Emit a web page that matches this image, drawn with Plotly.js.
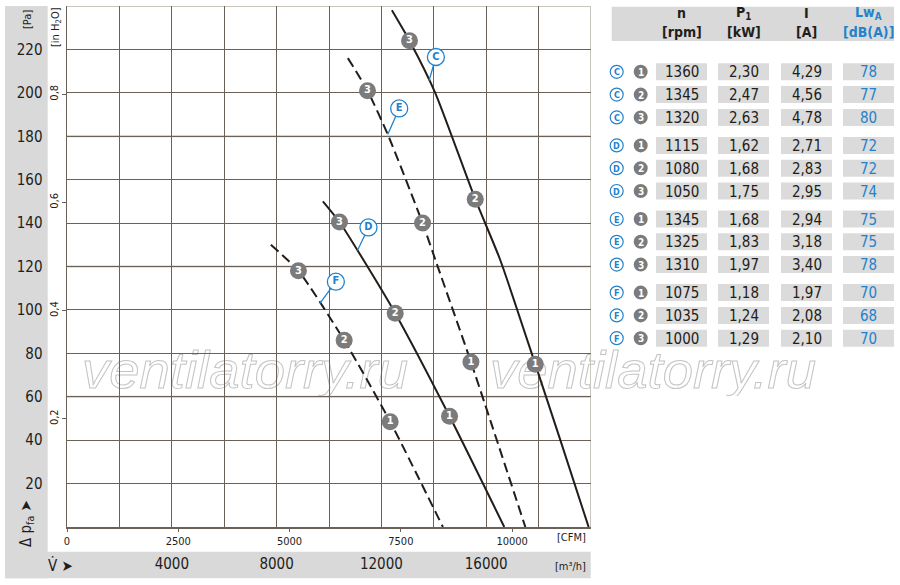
<!DOCTYPE html>
<html>
<head>
<meta charset="utf-8">
<script src="https://cdn.plot.ly/plotly-3.0.1.min.js"></script>
<style>
  html, body { margin: 0; padding: 0; background: #fff; }
  #chart { width: 900px; height: 585px; }
</style>
</head>
<body>
<div id="chart"></div>
<script>
// fan curves, air flow in m3/h and static pressure in Pa
const curveCFlow = [12400, 13073, 14054, 15582, 16536, 17873, 18830, 19909];
const curveCPa   = [238, 224, 200, 151, 123, 75, 40, 0];
const curveDFlow = [9766, 10400, 11316, 12527, 14601, 16690];
const curveDPa   = [150, 140.5, 123, 98.5, 51, 0];
const curveEFlow = [10720, 11470, 12272, 13571, 14120, 15418, 17494];
const curveEPa   = [216, 201, 180, 140, 121, 76, 0];
const curveFFlow = [7780, 8834, 10579, 12336, 14348];
const curveFPa   = [130, 118, 86, 48.5, 0];

// operating points 1, 2, 3 on each curve
const pointNames = ['1', '2', '3'];
const pointsCFlow = [17873, 15582, 13073], pointsCPa = [75, 151, 224];
const pointsDFlow = [14601, 12527, 10400], pointsDPa = [51, 98.5, 140.5];
const pointsEFlow = [15418, 13571, 11470], pointsEPa = [76, 140, 201];
const pointsFFlow = [12336, 10579, 8834],  pointsFPa = [48.5, 86, 118];

// curve callouts C, D, E, F (bubble centre and where the leader touches the curve)
const calloutNames  = ['C', 'D', 'E', 'F'];
const calloutFlow   = [14080, 11507, 12679, 10262];
const calloutPa     = [216.5, 138, 192.8, 113];
const calloutTouchPa = [205.7, 127.4, 180.8, 103];

// axes
const m3hTicks = [4000, 8000, 12000, 16000];
const cfmTicks = [0, 2500, 5000, 7500, 10000];
const paTicks = [20, 40, 60, 80, 100, 120, 140, 160, 180, 200, 220];
const inH2oTicks = [0.2, 0.4, 0.6, 0.8];
const lightGridPa = [60, 120, 180, 240];
const M3H_PER_CFM = 1.699011;
const PA_PER_INH2O = 249.0889;

// table
const tableCurve = ['C', 'C', 'C', 'D', 'D', 'D', 'E', 'E', 'E', 'F', 'F', 'F'];
const tablePoint = ['1', '2', '3', '1', '2', '3', '1', '2', '3', '1', '2', '3'];
const speedRpm  = [1360, 1345, 1320, 1115, 1080, 1050, 1345, 1325, 1310, 1075, 1035, 1000];
const powerKw   = [2.30, 2.47, 2.63, 1.62, 1.68, 1.75, 1.68, 1.83, 1.97, 1.18, 1.24, 1.29];
const currentA  = [4.29, 4.56, 4.78, 2.71, 2.83, 2.95, 2.94, 3.18, 3.40, 1.97, 2.08, 2.10];
const soundDbA  = [78, 77, 80, 72, 72, 74, 75, 75, 78, 70, 68, 70];

const NARROW = '"DejaVu Sans Condensed", "Liberation Sans Narrow", sans-serif';
const INK = '#221d19';
const GRID = '#6a6158';
const LIGHT = '#c9c5bf';
const BLUE = '#2382cc';
const DOT = '#7b7b7b';
const PANEL = '#d9d9d9';

// plot area in pixels, used for things outside the axes
const L = 67, R = 591, T = 6, B = 527;
const pX = v => (v - L) / (R - L);
const pY = v => (B - v) / (B - T);

function xAtPa(xs, ys, pa) {
    for (let i = 0; i < ys.length - 1; i++) {
        if (pa <= ys[i] && pa >= ys[i + 1]) {
            const t = (ys[i] - pa) / (ys[i] - ys[i + 1]);
            return xs[i] + t * (xs[i + 1] - xs[i]);
        }
    }
    return xs[0];
}

const curves = [
    { x: curveCFlow, y: curveCPa, dash: 'solid', px: pointsCFlow, py: pointsCPa },
    { x: curveDFlow, y: curveDPa, dash: 'solid', px: pointsDFlow, py: pointsDPa },
    { x: curveEFlow, y: curveEPa, dash: '10px,5px', px: pointsEFlow, py: pointsEPa },
    { x: curveFFlow, y: curveFPa, dash: '10px,5px', px: pointsFFlow, py: pointsFPa },
];

const data = [];
curves.forEach(c => {
    data.push({
        x: c.x, y: c.y, type: 'scatter', mode: 'lines',
        line: { color: INK, width: 2, dash: c.dash, shape: 'spline', smoothing: 0.6 },
        hoverinfo: 'skip'
    });
});
// leader lines of the callouts
curves.forEach((c, i) => {
    data.push({
        x: [calloutFlow[i], xAtPa(c.x, c.y, calloutTouchPa[i])],
        y: [calloutPa[i], calloutTouchPa[i]],
        type: 'scatter', mode: 'lines',
        line: { color: BLUE, width: 1.3 }, hoverinfo: 'skip'
    });
});
curves.forEach(c => {
    data.push({
        x: c.px, y: c.py, type: 'scatter', mode: 'markers+text',
        text: pointNames, textposition: 'middle center',
        textfont: { family: NARROW, size: 11, color: '#fff', weight: 'bold' },
        marker: { size: 17, color: DOT, line: { width: 0 } },
        hoverinfo: 'skip'
    });
});
data.push({
    x: calloutFlow, y: calloutPa, type: 'scatter', mode: 'markers+text',
    text: calloutNames, textposition: 'middle center',
    textfont: { family: NARROW, size: 11, color: BLUE, weight: 'bold' },
    marker: { size: 17, color: '#fff', line: { color: BLUE, width: 1.3 } },
    hoverinfo: 'skip'
});
// carriers for the secondary axes
data.push({ x: [0], y: [0], xaxis: 'x2', yaxis: 'y', mode: 'markers', marker: { opacity: 0 }, hoverinfo: 'skip' });
data.push({ x: [0], y: [0], xaxis: 'x3', yaxis: 'y', mode: 'markers', marker: { opacity: 0 }, hoverinfo: 'skip' });
data.push({ x: [0], y: [0], xaxis: 'x', yaxis: 'y2', mode: 'markers', marker: { opacity: 0 }, hoverinfo: 'skip' });

const shapes = [];
const annotations = [];

// grey panels
shapes.push({ type: 'rect', xref: 'paper', yref: 'paper', layer: 'below',
    x0: pX(5), x1: pX(47.7), y0: pY(6), y1: pY(578.3), fillcolor: PANEL, line: { width: 0 } });
shapes.push({ type: 'rect', xref: 'paper', yref: 'paper', layer: 'below',
    x0: pX(5), x1: pX(590.7), y0: pY(551.7), y1: pY(578.3), fillcolor: PANEL, line: { width: 0 } });
shapes.push({ type: 'rect', xref: 'paper', yref: 'paper', layer: 'below',
    x0: pX(611.7), x1: pX(894), y0: pY(6.7), y1: pY(41), fillcolor: PANEL, line: { width: 0 } });

// light grid lines and right border
lightGridPa.forEach(v => {
    shapes.push({ type: 'line', xref: 'paper', yref: 'y', layer: 'between',
        x0: 0, x1: 1, y0: v, y1: v, line: { color: LIGHT, width: 2 } });
});
shapes.push({ type: 'line', xref: 'x', yref: 'paper', layer: 'between',
    x0: 20000, x1: 20000, y0: 0, y1: 1, line: { color: LIGHT, width: 2 } });

function note(x, y, text, size, color, extra) {
    return Object.assign({
        xref: 'paper', yref: 'paper', x: pX(x), y: pY(y), text: text,
        showarrow: false, xanchor: 'center', yanchor: 'middle',
        font: { family: NARROW, size: size, color: color }
    }, extra || {});
}

annotations.push(note(28, 20, '[Pa]', 11, INK, { textangle: -90 }));
annotations.push(note(56, 27, '[in H<sub>2</sub>O]', 11, INK, { textangle: -90 }));
annotations.push(note(26, 524, 'Δ p<sub>fa</sub> ➤', 15, INK, { textangle: -90 }));
annotations.push(note(60, 565, 'V\u0307 ➤', 15, INK));
annotations.push(note(571.7, 537, '[CFM]', 11, INK));
annotations.push(note(570, 566.5, '[m³/h]', 11, INK));

// table header
const colX = [681.5, 743.5, 806.5, 868.5];
const colW = 51;
const headTop = ['n', 'P<sub>1</sub>', 'I', 'Lw<sub>A</sub>'];
const headUnit = ['[rpm]', '[kW]', '[A]', '[dB(A)]'];
colX.forEach((cx, j) => {
    const col = j === 3 ? BLUE : INK;
    annotations.push(note(cx, 13, '<b>' + headTop[j] + '</b>', 14, col, { yanchor: 'middle' }));
    annotations.push(note(cx, 32.5, '<b>' + headUnit[j] + '</b>', 14, col));
});

// table rows
const fmt2 = v => v.toFixed(2).replace('.', ',');
tableCurve.forEach((name, i) => {
    const ry = 71.8 + Math.floor(i / 3) * 73.6 + (i % 3) * 22.8;
    const values = [String(speedRpm[i]), fmt2(powerKw[i]), fmt2(currentA[i]), String(soundDbA[i])];
    colX.forEach((cx, j) => {
        shapes.push({ type: 'rect', xref: 'paper', yref: 'paper', layer: 'below',
            x0: pX(cx - colW / 2), x1: pX(cx + colW / 2), y0: pY(ry - 8.5), y1: pY(ry + 8.5),
            fillcolor: '#dbdbdb', line: { width: 0 } });
        annotations.push(note(cx, ry + 0.5, values[j], 15, j === 3 ? BLUE : INK));
    });
    shapes.push({ type: 'circle', xref: 'paper', yref: 'paper',
        x0: pX(616.7 - 6.5), x1: pX(616.7 + 6.5), y0: pY(ry - 6.5), y1: pY(ry + 6.5),
        fillcolor: '#fff', line: { color: BLUE, width: 1.2 } });
    annotations.push(note(616.7, ry + 0.5, '<b>' + name + '</b>', 9, BLUE));
    shapes.push({ type: 'circle', xref: 'paper', yref: 'paper',
        x0: pX(640.7 - 7), x1: pX(640.7 + 7), y0: pY(ry - 7), y1: pY(ry + 7),
        fillcolor: DOT, line: { width: 0 } });
    annotations.push(note(640.7, ry + 0.5, '<b>' + tablePoint[i] + '</b>', 10, '#fff'));
});

// watermark, outlined text under the grid
const wm = '<svg xmlns="http://www.w3.org/2000/svg" width="760" height="60">' +
    '<text x="6" y="52" font-family="Liberation Sans, Arial, sans-serif" font-style="italic" font-size="52" ' +
    'fill="none" stroke="#c4c4c4" stroke-width="1" textLength="326" lengthAdjust="spacingAndGlyphs">ventilatorry.ru</text>' +
    '<text x="414" y="52" font-family="Liberation Sans, Arial, sans-serif" font-style="italic" font-size="52" ' +
    'fill="none" stroke="#c4c4c4" stroke-width="1" textLength="326" lengthAdjust="spacingAndGlyphs">ventilatorry.ru</text>' +
    '</svg>';
const images = [{
    source: 'data:image/svg+xml;charset=utf-8,' + encodeURIComponent(wm),
    xref: 'paper', yref: 'paper', x: pX(76), y: pY(336),
    sizex: 760 / (R - L), sizey: 60 / (B - T), sizing: 'stretch',
    xanchor: 'left', yanchor: 'top', layer: 'below'
}];

const layout = {
    width: 900, height: 585,
    margin: { l: L, r: 900 - R, t: T, b: 585 - B, pad: 0 },
    paper_bgcolor: '#fff', plot_bgcolor: 'rgba(0,0,0,0)',
    separators: ',.',
    showlegend: false,
    font: { family: NARROW, color: INK },
    xaxis: {
        range: [0, 20000], tickmode: 'linear', tick0: 0, dtick: 2000,
        showgrid: true, gridcolor: GRID, gridwidth: 1,
        showticklabels: false, ticks: '', zeroline: false,
        showline: true, linecolor: GRID, linewidth: 1.5, fixedrange: true
    },
    xaxis2: {
        overlaying: 'x', anchor: 'y', side: 'bottom',
        range: [0, 20000 / M3H_PER_CFM], tickvals: cfmTicks, tickformat: 'd',
        showgrid: false, zeroline: false, ticks: 'outside', ticklen: 4, tickcolor: GRID,
        tickfont: { family: NARROW, size: 11, color: INK }, fixedrange: true
    },
    xaxis3: {
        overlaying: 'x', anchor: 'y', side: 'bottom',
        range: [0, 20000], tickvals: m3hTicks, tickformat: 'd',
        showgrid: false, zeroline: false, ticks: '', ticklabelstandoff: 26,
        tickfont: { family: NARROW, size: 15, color: INK }, fixedrange: true
    },
    yaxis: {
        range: [0, 240], tickvals: paTicks, tickformat: 'd',
        showgrid: true, gridcolor: GRID, gridwidth: 1, zeroline: false,
        ticks: '', ticklabelstandoff: 20,
        showline: true, linecolor: GRID, linewidth: 1.5,
        tickfont: { family: NARROW, size: 15, color: INK }, fixedrange: true
    },
    yaxis2: {
        overlaying: 'y', anchor: 'x', side: 'left',
        range: [0, 240 / PA_PER_INH2O], tickvals: inH2oTicks, tickformat: '.1f',
        showgrid: false, zeroline: false, ticks: 'outside', ticklen: 4, tickcolor: GRID,
        tickangle: -90, tickfont: { family: NARROW, size: 11, color: INK }, fixedrange: true
    },
    shapes: shapes,
    annotations: annotations,
    images: images
};

Plotly.newPlot('chart', data, layout, { displayModeBar: false, staticPlot: true });
</script>
</body>
</html>
